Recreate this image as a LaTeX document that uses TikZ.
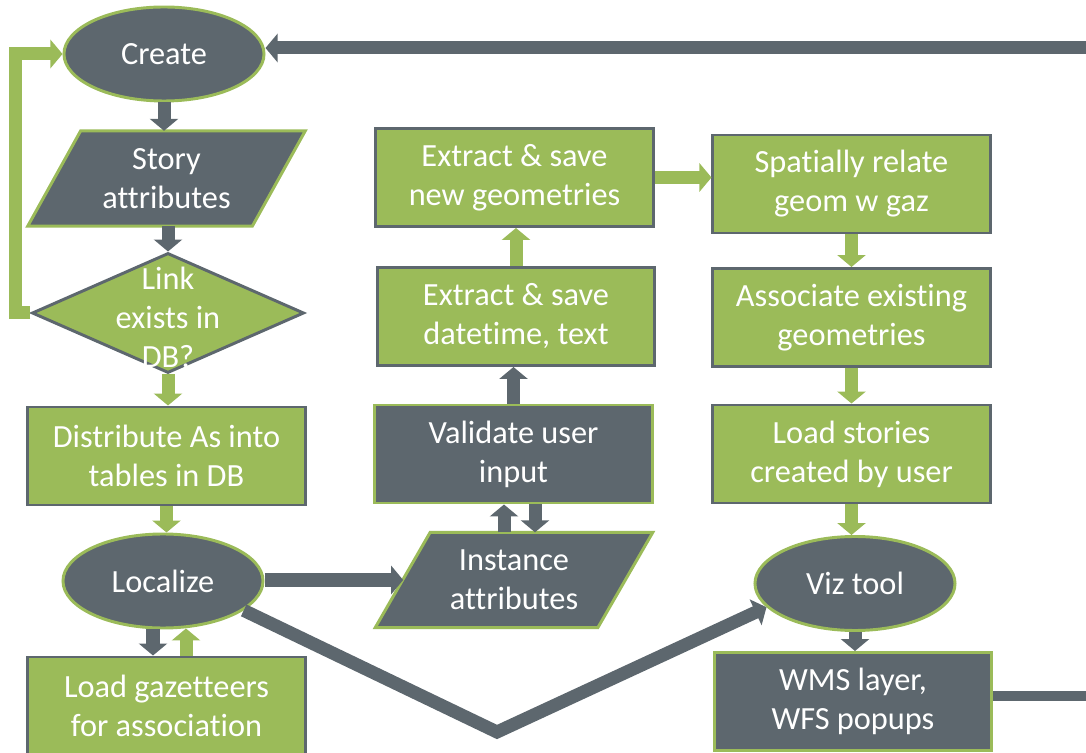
\documentclass[tikz,border=0pt]{standalone}
\usepackage{fontspec}
\setmainfont{Carlito}[Ligatures=NoCommon]
\usetikzlibrary{shapes.geometric,arrows.meta,calc,backgrounds}
\definecolor{inkgray}{HTML}{5D676E}
\definecolor{leafgreen}{HTML}{9BBB59}

\begin{document}
\begin{tikzpicture}[x=0.025cm,y=-0.025cm,
  every node/.style={font=\fontsize{23}{27.7}\selectfont, text=white, align=center, inner sep=0pt},
  rbox/.style={rectangle, minimum width=6.925cm, minimum height=2.45cm, line width=2.1pt},
  gbox/.style={rbox, fill=leafgreen, draw=inkgray},
  dbox/.style={rbox, fill=inkgray, draw=leafgreen},
  oval/.style={ellipse, minimum width=5cm, minimum height=2.35cm, fill=inkgray, draw=leafgreen, line width=2.1pt},
  pframe/.style={rectangle, minimum width=6.925cm, minimum height=2.37cm},
  pshape/.style={fill=inkgray, draw=leafgreen, line width=2.1pt, line join=miter},
  flow/.style={line width=0.325cm, -{Triangle[width=0.7cm,length=0.3cm]}},
  gflow/.style={flow, draw=leafgreen},
  dflow/.style={flow, draw=inkgray},
]
\useasboundingbox (0,0) rectangle (1086,753);
\clip (0,0) rectangle (1086,753);

% left column
\node[oval] (create) at (164,54) {Create};
\node[pframe] (story) at (166.5,178.5) {Story\\attributes};
\node[diamond, minimum width=6.8cm, minimum height=3cm, fill=leafgreen, draw=inkgray, line width=2.1pt] (dec) at (168,313) {};
\node (dectext) at (168,317) {Link\\exists in\\DB?};
\node[gbox] (dist) at (166.5,456) {Distribute As into\\tables in DB};
\node[oval] (loc) at (163,581) {Localize};
\node[gbox] (gaz) at (166.5,706) {Load gazetteers\\for association};

% middle column
\node[gbox] (newgeom) at (514.5,177.5) {Extract \& save\\new geometries};
\node[gbox] (dtime) at (516,316.5) {Extract \& save\\datetime, text};
\node[dbox] (valid) at (513.5,454) {Validate user\\input};
\node[pframe] (inst) at (514,580) {Instance\\attributes};

% right column
\node[gbox] (spatial) at (851.5,184) {Spatially relate\\geom w gaz};
\node[gbox] (assoc) at (851.5,317.5) {Associate existing\\geometries};
\node[gbox] (stories) at (851.5,454) {Load stories\\created by user};
\node[oval] (viz) at (855,583.5) {Viz tool};
\node[dbox] (wms) at (853,701.5) {WMS layer,\\WFS popups};

% parallelogram outlines behind their labels
\begin{scope}[on background layer]
  \draw[pshape] ($(story.north west)+(53,0)$) -- (story.north east)
    -- ($(story.south east)+(-53,0)$) -- (story.south west) -- cycle;
  \draw[pshape] ($(inst.north west)+(55,0)$) -- (inst.north east)
    -- ($(inst.south east)+(-55,0)$) -- (inst.south west) -- cycle;
\end{scope}

% connectors, left column
\draw[dflow] (create.south) -- (create.south |- story.north);
\draw[dflow] (story.south -| dec.north) -- (dec.north);
\draw[gflow] (dec.south) -- (dec.south |- dist.north);
\draw[gflow] (dec.west) -- ++(-15,0) |- (create.west);
\draw[gflow] (dist.south) -- (dist.south |- loc.north);
\coordinate (ldn) at ($(loc.south)+(-10,0)$);
\draw[dflow] (ldn) -- (ldn |- gaz.north);
\coordinate (lup) at ($(loc.south)+(23,-1)$);
\draw[gflow] (lup |- gaz.north) -- (lup);

% connectors from Localize
\coordinate (instL) at ($(inst.west)+(28,0)$);
\draw[dflow] (loc.east |- instL) -- (instL);
\coordinate (vtx) at (497,732);
\draw[dflow] (loc.-20) -- (vtx) -- (viz.195);

% connectors, middle column
\coordinate (iu) at ($(inst.north)+(-10,0)$);
\draw[dflow] (iu) -- (iu |- valid.south);
\coordinate (id) at ($(inst.north)+(21,0)$);
\draw[dflow] (id |- valid.south) -- (id);
\draw[dflow] (valid.north) -- (valid.north |- dtime.south);
\draw[gflow] (dtime.north) -- (dtime.north |- newgeom.south);
\draw[gflow] (newgeom.east) -- (newgeom.east -| spatial.west);

% connectors, right column
\draw[gflow] (spatial.south) -- (spatial.south |- assoc.north);
\draw[gflow] (assoc.south) -- (assoc.south |- stories.north);
\draw[gflow] (stories.south) -- (stories.south |- viz.north);
\draw[dflow] (viz.south) -- (viz.south |- wms.north);

% return loop leaving and re-entering at the right edge
\coordinate (outR) at (1100,696);
\draw[inkgray, line width=0.27cm] (wms.east |- outR) -- (outR);
\coordinate (inR) at (1100,48);
\draw[dflow] (inR) -- (inR -| create.east);
\end{tikzpicture}
\end{document}
